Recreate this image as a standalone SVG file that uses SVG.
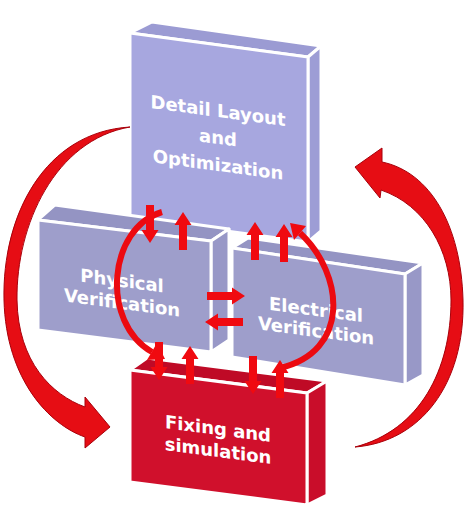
<svg xmlns="http://www.w3.org/2000/svg" xmlns:xlink="http://www.w3.org/1999/xlink" width="468" height="512" viewBox="0 0 468 512">
<style>
.t{font-family:"DejaVu Sans",Verdana,sans-serif;font-weight:bold;font-size:18px;fill:#ffffff;text-anchor:middle}
.e{stroke:#ffffff;stroke-width:3;stroke-linejoin:round}
.lf{fill:#a7a7df}.lt{fill:#9b9bd3}.lr{fill:#9d9dd5}
.mf{fill:#9e9ecb}.mt{fill:#9494c3}.mr{fill:#9898c7}
.rf{fill:#d0102c}.rt{fill:#bf0a26}.rr{fill:#c90d2a}
.big{fill:#e60d14;stroke:#a8000a;stroke-width:1}
.arc{fill:none;stroke:#ec0a10;stroke-width:6}
.red{fill:#f00a10}
</style>
<defs>
<path id="ad" class="red" d="M-4,0H4V25H8.5L0,38L-8.5,25H-4Z"/>
</defs>
<rect width="468" height="512" fill="#ffffff"/>
<g id="detail-layout">
<polygon class="lt e" points="130,33 152,22 321,46 308,57"/>
<polygon class="lr e" points="308,57 321,46 321,231 308,242"/>
<polygon class="lf e" points="130,33 308,57 308,242 130,218"/>
<g transform="translate(218,144) skewY(7.7)">
<text class="t" x="0" y="-27">Detail Layout</text>
<text class="t" x="0" y="0">and</text>
<text class="t" x="0" y="27">Optimization</text>
</g>
</g>
<g id="physical-verification">
<polygon class="mt e" points="38,220 55,205 229,229 211,241"/>
<polygon class="mr e" points="211,241 229,229 229,340 211,352"/>
<polygon class="mf e" points="38,220 211,241 211,352 38,330"/>
<g transform="translate(122,298) skewY(7.5)">
<text class="t" x="0" y="-11">Physical</text>
<text class="t" x="0" y="11">Verification</text>
</g>
</g>
<g id="electrical-verification">
<polygon class="mt e" points="232,248 248,238 423,263 405,274"/>
<polygon class="mr e" points="405,274 423,263 423,375 405,385"/>
<polygon class="mf e" points="232,248 405,274 405,385 232,357"/>
<g transform="translate(316,327) skewY(7.5)">
<text class="t" x="0" y="-11">Electrical</text>
<text class="t" x="0" y="10">Verification</text>
</g>
</g>
<g id="fixing-simulation">
<polygon class="rt e" points="130,370 147,358 327,381 307,393"/>
<polygon class="rr e" points="307,393 327,381 327,495 307,505"/>
<polygon class="rf e" points="130,370 307,393 307,505 130,482"/>
<g transform="translate(218,446) skewY(7.5)">
<text class="t" x="0" y="-11">Fixing and</text>
<text class="t" x="0" y="11">simulation</text>
</g>
</g>
<g id="connectors">
<path class="big" d="M130,127 C45,132 2,215 4,300 C6,380 50,425 85,437 L85,448 L110,427 L85,397 L85,407 C52,395 18,362 17,300 C16,225 55,140 130,127 Z"/>
<path class="big" d="M355,447 C420,442 465,385 463,300 C461,225 430,172 382,162 L382,148 L355,167 L380,198 L381,190 C425,205 451,250 451,300 C451,370 420,430 355,447 Z"/>
<path class="arc" d="M162,212 C108,228 100,322 152,352"/>
<polygon class="red" points="147,360 165,359 157,343"/>
<path class="arc" stroke-width="7" d="M280,368 C350,352 345,275 300,233"/>
<polygon class="red" points="306,226 290,223 294,240"/>
<use xlink:href="#ad" transform="translate(150,205)"/>
<use xlink:href="#ad" transform="translate(183,250) rotate(180)"/>
<use xlink:href="#ad" transform="translate(255,260) rotate(180)"/>
<use xlink:href="#ad" transform="translate(284,262) rotate(180)"/>
<use xlink:href="#ad" transform="translate(207,296) rotate(-90)"/>
<use xlink:href="#ad" transform="translate(243,322) rotate(90)"/>
<use xlink:href="#ad" transform="translate(159,342)"/>
<use xlink:href="#ad" transform="translate(190,384) rotate(180)"/>
<use xlink:href="#ad" transform="translate(253,356)"/>
<use xlink:href="#ad" transform="translate(280,398) rotate(180)"/>
</g>
</svg>
